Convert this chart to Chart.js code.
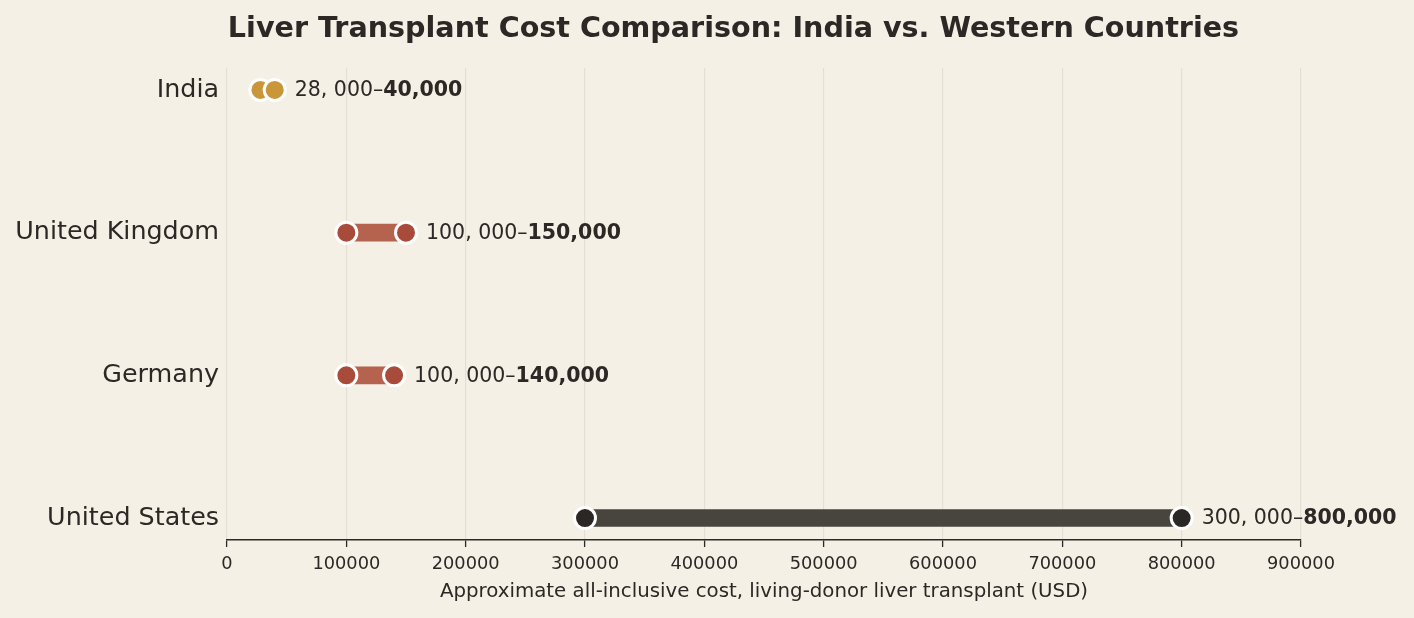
<!DOCTYPE html>
<html><head><meta charset="utf-8">
<script src="https://cdn.jsdelivr.net/npm/chart.js@4"></script>
<style>html,body{margin:0;padding:0;background:#F4F0E6;}#wrap{width:1414px;height:618px;}</style>
</head><body><div id="wrap"><canvas id="c" width="1414" height="618"></canvas></div>
<script>
const countries = ['India', 'United Kingdom', 'Germany', 'United States'];
const minCost = [28000, 100000, 100000, 300000];
const maxCost = [40000, 150000, 140000, 800000];
const xTicks = [0, 100000, 200000, 300000, 400000, 500000, 600000, 700000, 800000, 900000];
const titleText = 'Liver Transplant Cost Comparison: India vs. Western Countries';
const xTitle = 'Approximate all-inclusive cost, living-donor liver transplant (USD)';

const barColors = ['#D1A24E', '#B5624F', '#B5624F', '#48453F'];
const dotColors = ['#C9963A', '#A84B3A', '#A84B3A', '#2A2724'];
const ink = '#2B2825';
const FONT = 'DejaVu Sans';

function fmtNormal(v){ return v.toLocaleString('en-US').replace(',', ', '); }
function fmtBold(v){ return v.toLocaleString('en-US'); }

const overlay = {
  id: 'overlay',
  beforeDraw(chart){
    const ctx = chart.ctx;
    ctx.save(); ctx.fillStyle = '#F4F0E6'; ctx.fillRect(0,0,chart.width,chart.height); ctx.restore();
  },
  afterDatasetsDraw(chart){
    const ctx = chart.ctx, xs = chart.scales.x, ys = chart.scales.y;
    ctx.save();
    ctx.fillStyle = ink;
    ctx.textBaseline = 'middle';
    countries.forEach((c, i) => {
      const x = xs.getPixelForValue(maxCost[i]) + 20;
      const y = ys.getPixelForValue(i) + 1;
      const a = fmtNormal(minCost[i]) + '\u2013';
      ctx.font = '20.5px "DejaVu Sans"';
      ctx.textAlign = 'left';
      ctx.fillText(a, x, y);
      const w = ctx.measureText(a).width;
      ctx.font = 'bold 20.5px "DejaVu Sans"';
      ctx.fillText(fmtBold(maxCost[i]), x + w, y);
    });
    ctx.font = 'bold 28.6px "DejaVu Sans"';
    ctx.textAlign = 'center';
    ctx.fillText(titleText, 733.5, 30);
    ctx.restore();
  }
};

const barData = countries.map((c, i) => ({ x: [minCost[i], maxCost[i]], y: i }));
const minPts = countries.map((c, i) => ({ x: minCost[i], y: i }));
const maxPts = countries.map((c, i) => ({ x: maxCost[i], y: i }));

new Chart(document.getElementById('c'), {
  type: 'bar',
  data: {
    datasets: [
      { type: 'bar', data: barData, backgroundColor: barColors, barThickness: 17, borderWidth: 0, order: 2 },
      { type: 'scatter', data: minPts, pointRadius: 10.5, pointHoverRadius: 10.5, pointBackgroundColor: dotColors, pointBorderColor: '#FFFFFF', pointBorderWidth: 3, order: 1 },
      { type: 'scatter', data: maxPts, pointRadius: 10.5, pointHoverRadius: 10.5, pointBackgroundColor: dotColors, pointBorderColor: '#FFFFFF', pointBorderWidth: 3, order: 0 }
    ]
  },
  options: {
    indexAxis: 'y',
    responsive: false,
    animation: false,
    devicePixelRatio: 1,
    layout: { padding: { top: 68, right: 113, left: 0, bottom: 14 } },
    plugins: { legend: { display: false }, tooltip: { enabled: false } },
    scales: {
      x: {
        type: 'linear', min: 0, max: 900000, offset: false,
        afterBuildTicks(s){ s.ticks = xTicks.map(v => ({ value: v })); },
        afterFit(s){ s.height = 64; },
        grid: { color: '#E4DFD4', lineWidth: 1.2, tickColor: ink, tickLength: 7, tickWidth: 1.3, drawTicks: true },
        border: { color: ink, width: 1.5 },
        ticks: { color: ink, font: { family: FONT, size: 17.8 }, padding: 7, callback: v => String(v), maxRotation: 0, autoSkip: false },
        title: { display: true, text: xTitle, color: ink, font: { family: FONT, size: 19.8 }, padding: { top: 2, bottom: 0 } }
      },
      y: {
        type: 'linear', min: -0.154, max: 3.154, reverse: true, offset: false,
        afterBuildTicks(s){ s.ticks = countries.map((c, i) => ({ value: i })); },
        afterFit(s){ s.width = 227; },
        grid: { display: false, drawTicks: false, offset: false },
        border: { display: false },
        ticks: { color: ink, font: { family: FONT, size: 25.4 }, padding: 8, callback: v => countries[v] }
      }
    }
  },
  plugins: [overlay]
});
</script></body></html>
